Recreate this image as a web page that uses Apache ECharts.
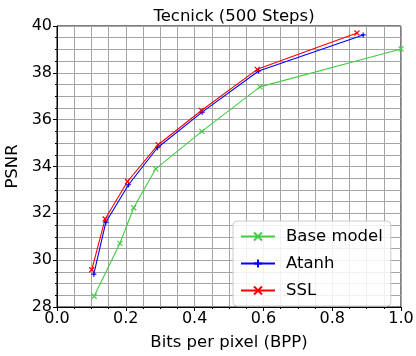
<!DOCTYPE html>
<html><head><meta charset="utf-8">
<script src="https://cdn.jsdelivr.net/npm/echarts@6/dist/echarts.min.js"></script>
<style>html,body{margin:0;padding:0;background:#fff}#c{width:416px;height:356px}</style>
</head><body><div id="c"></div>
<script>
const seriesNames = ['Base model', 'Atanh', 'SSL'];
const baseX = [0.108, 0.183, 0.223, 0.287, 0.421, 0.59, 1.0];
const baseY = [28.46, 30.72, 32.24, 33.9, 35.5, 37.4, 39.02];
const atanhX = [0.107, 0.142, 0.208, 0.292, 0.422, 0.586, 0.89];
const atanhY = [29.4, 31.62, 33.22, 34.8, 36.32, 38.08, 39.62];
const sslX = [0.101, 0.14, 0.205, 0.294, 0.42, 0.582, 0.872];
const sslY = [29.59, 31.76, 33.36, 34.93, 36.39, 38.15, 39.7];
const xTicks = [0.0, 0.2, 0.4, 0.6, 0.8, 1.0];
const yTicks = [28, 30, 32, 34, 36, 38, 40];

const X_SYM = 'path://M0,0L10,10M10,0L0,10';
const PLUS_SYM = 'path://M5,0L5,10M0,5L10,5';
const colors = ['#44cc44', '#0000ff', '#ff0000'];
const pairs = (xs, ys) => xs.map((x, i) => [x, ys[i]]);
const mk = (name, data, color, sym, size) => ({
  name, type: 'line', data, symbol: sym, symbolSize: size,
  lineStyle: { color, width: 1.1 },
  itemStyle: { color, borderColor: color, borderWidth: 1.2 },
  animation: false
});
const gridColor = '#a4a4a4';
const FS = 16;
const chart = echarts.init(document.getElementById('c'));
chart.setOption({
  animation: false,
  title: { text: 'Tecnick (500 Steps)', left: 229, top: 3, textAlign: 'center',
    textStyle: { fontFamily: 'DejaVu Sans', fontSize: 16.5, fontWeight: 'normal', color: '#000' } },
  grid: { left: 57, right: 15, top: 26, bottom: 49, show: true, borderColor: '#000', borderWidth: 1,
    backgroundColor: 'transparent', containLabel: false, outerBoundsMode: 'none' },
  legend: {
    orient: 'vertical', left: 233, top: 221, data: seriesNames,
    itemWidth: 34, itemHeight: 10, itemGap: 10,
    padding: [7, 8, 7, 7],
    backgroundColor: 'rgba(255,255,255,0.85)', borderColor: '#cccccc', borderWidth: 1, borderRadius: 4,
    textStyle: { fontFamily: 'DejaVu Sans', fontSize: 16.5, color: '#000', padding: [0, 0, 0, 6] }
  },
  xAxis: {
    type: 'value', min: 0, max: 1, interval: 0.2,
    name: 'Bits per pixel (BPP)', nameLocation: 'middle', nameGap: 27,
    nameTextStyle: { fontFamily: 'DejaVu Sans', fontSize: 16.5, color: '#000' },
    axisLine: { show: true, lineStyle: { color: '#000', width: 1 } },
    axisTick: { show: true, inside: false, length: 4, lineStyle: { color: '#000' } },
    minorTick: { show: true, splitNumber: 4, length: 2, lineStyle: { color: '#000' } },
    axisLabel: { fontFamily: 'DejaVu Sans', fontSize: FS, color: '#000', margin: 4,
      formatter: v => { const t = xTicks.find(k => Math.abs(k - v) < 1e-6); return t === undefined ? '' : t.toFixed(1); } },
    splitLine: { show: true, lineStyle: { color: gridColor, width: 1 } },
    minorSplitLine: { show: true, lineStyle: { color: gridColor, width: 1 } }
  },
  yAxis: {
    type: 'value', min: 28, max: 40, interval: 2,
    name: 'PSNR', nameLocation: 'middle', nameGap: 33,
    nameTextStyle: { fontFamily: 'DejaVu Sans', fontSize: 16.5, color: '#000' },
    axisLine: { show: true, lineStyle: { color: '#000', width: 1 } },
    axisTick: { show: true, inside: false, length: 4, lineStyle: { color: '#000' } },
    minorTick: { show: true, splitNumber: 4, length: 2, lineStyle: { color: '#000' } },
    axisLabel: { fontFamily: 'DejaVu Sans', fontSize: FS, color: '#000', margin: 5,
      formatter: v => { const t = yTicks.find(k => Math.abs(k - v) < 1e-6); return t === undefined ? '' : String(t); } },
    splitLine: { show: true, lineStyle: { color: gridColor, width: 1 } },
    minorSplitLine: { show: true, lineStyle: { color: gridColor, width: 1 } }
  },
  series: [
    mk(seriesNames[0], pairs(baseX, baseY), colors[0], X_SYM, 5),
    mk(seriesNames[1], pairs(atanhX, atanhY), colors[1], PLUS_SYM, 5),
    mk(seriesNames[2], pairs(sslX, sslY), colors[2], X_SYM, 5)
  ]
});
</script></body></html>
